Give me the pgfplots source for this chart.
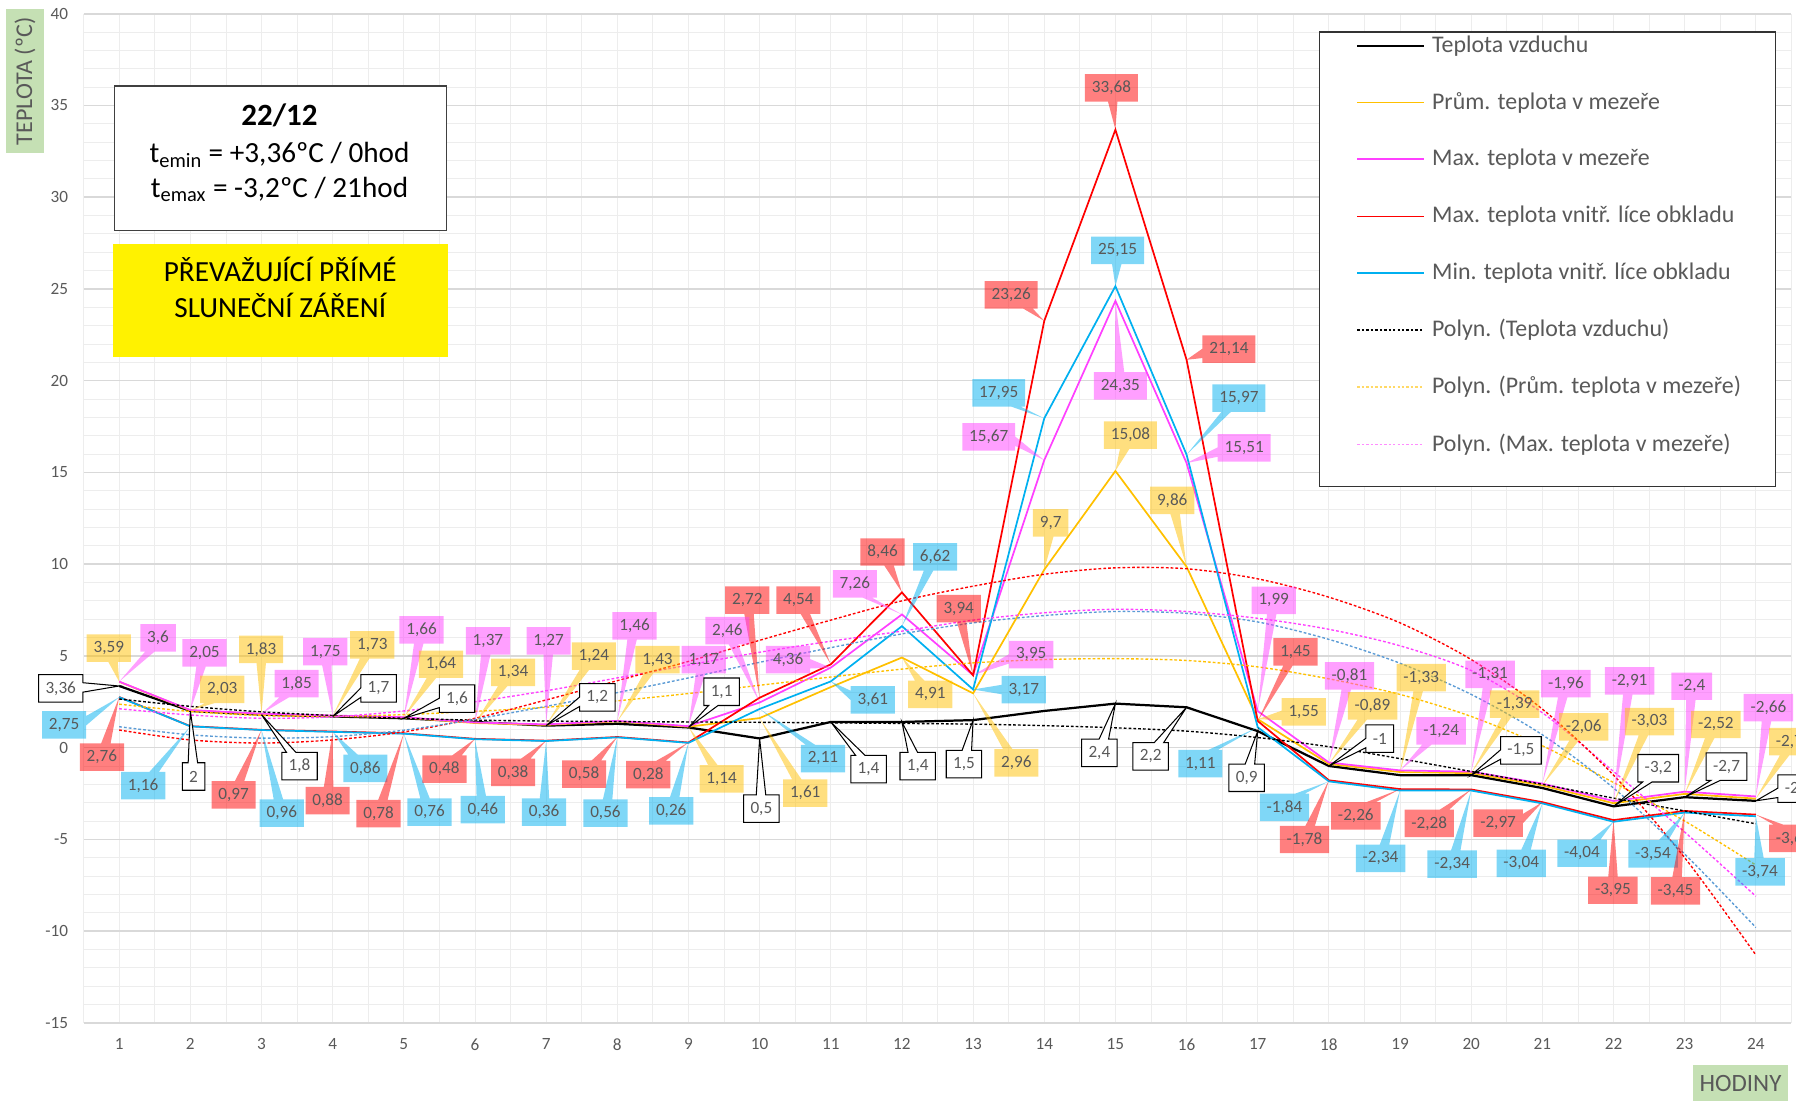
\documentclass[border=0pt]{standalone}
\usepackage{pgfplots}
\pgfplotsset{compat=1.18}
\usepackage{fontspec}
\setmainfont{Carlito}
\usetikzlibrary{shapes.callouts}
\definecolor{cY}{HTML}{FFC000}
\definecolor{cM}{HTML}{FF40FF}
\definecolor{cR}{HTML}{FF0000}
\definecolor{cB}{HTML}{00B0F0}
\definecolor{tB}{HTML}{5B9BD5}
\definecolor{lbl}{HTML}{595959}
\definecolor{gridlight}{HTML}{EDEDED}
\definecolor{gridmajor}{HTML}{D9D9D9}
\definecolor{cG}{HTML}{C5E0B4}
\tikzset{
 labbase/.style={rectangle callout, callout pointer width=5.5pt, font=\fontsize{10}{11}\selectfont, text=lbl, minimum height=16pt, inner xsep=4pt, inner ysep=1pt},
 labR/.style={labbase, fill=cR, fill opacity=0.5, text opacity=1},
 labB/.style={labbase, fill=cB, fill opacity=0.5, text opacity=1},
 labY/.style={labbase, fill=cY, fill opacity=0.5, text opacity=1},
 labM/.style={labbase, fill=cM, fill opacity=0.5, text opacity=1},
 labK/.style={labbase, fill=white, draw=black, line width=0.6pt},
 trend/.style={line width=0.8pt, dash pattern=on 1.6pt off 1.2pt, smooth},
 leg/.style={anchor=west, font=\fontsize{13.9}{16}\selectfont, text=lbl, inner sep=0pt},
}
\newcommand\lab[6]{\node[lab#1, callout absolute pointer={(axis cs:#4,#5)}] at ([xshift={(#2-104.06-62.125*(#4-1))*0.6667pt}, yshift={(652.8-16.018*(#5)-#3)*0.6667pt}]axis cs:#4,#5) {#6};}
\begin{document}
\begin{tikzpicture}
\begin{axis}[
 at={(0pt,0pt)}, anchor=south west,
 scale only axis, width=994.05pt, height=587.36pt,
 xmin=0.5, xmax=24.5, ymin=-15, ymax=40,
 xtick={1,2,...,24}, ytick={-15,-10,...,40},
 minor x tick num=1, minor y tick num=4,
 grid=both,
 major x grid style={color=gridlight, line width=0.5pt},
 minor x grid style={color=gridlight, line width=0.5pt},
 major y grid style={color=gridmajor, line width=0.9pt},
 minor y grid style={color=gridlight, line width=0.5pt},
 axis line style={draw=none},
 tick style={draw=none},
 tick label style={font=\fontsize{10}{11}\selectfont, text=lbl},
 xticklabel style={yshift=-5.7pt},
 yticklabel style={xshift=-5.5pt},
 /pgf/number format/assume math mode=true,
 clip=false,
]
\draw[gridlight, line width=0.5pt] (axis cs:0.5,-15) -- (axis cs:0.5,40);
\draw[gridlight, line width=0.5pt] (axis cs:24.5,-15) -- (axis cs:24.5,40);
% data series
\addplot[black, line width=1.3pt, mark=none] coordinates {(1,3.36)(2,2)(3,1.8)(4,1.7)(5,1.6)(6,1.4)(7,1.2)(8,1.3)(9,1.1)(10,0.5)(11,1.4)(12,1.4)(13,1.5)(14,2.0)(15,2.4)(16,2.2)(17,0.9)(18,-1)(19,-1.5)(20,-1.5)(21,-2.2)(22,-3.2)(23,-2.7)(24,-2.9)};
\addplot[cY, line width=1pt, mark=none] coordinates {(1,3.59)(2,2.03)(3,1.83)(4,1.73)(5,1.64)(6,1.34)(7,1.24)(8,1.43)(9,1.14)(10,1.61)(11,3.3)(12,4.91)(13,2.96)(14,9.7)(15,15.08)(16,9.86)(17,1.55)(18,-0.89)(19,-1.33)(20,-1.39)(21,-2.06)(22,-3.03)(23,-2.52)(24,-2.78)};
\addplot[cM, line width=1pt, mark=none] coordinates {(1,3.6)(2,2.05)(3,1.85)(4,1.75)(5,1.66)(6,1.37)(7,1.27)(8,1.46)(9,1.17)(10,2.46)(11,4.36)(12,7.26)(13,3.95)(14,15.67)(15,24.35)(16,15.51)(17,1.99)(18,-0.81)(19,-1.24)(20,-1.31)(21,-1.96)(22,-2.91)(23,-2.4)(24,-2.66)};
\addplot[cR, line width=1pt, mark=none] coordinates {(1,2.76)(2,1.17)(3,0.97)(4,0.88)(5,0.78)(6,0.48)(7,0.38)(8,0.58)(9,0.28)(10,2.72)(11,4.54)(12,8.46)(13,3.94)(14,23.26)(15,33.68)(16,21.14)(17,1.45)(18,-1.78)(19,-2.26)(20,-2.28)(21,-2.97)(22,-3.95)(23,-3.45)(24,-3.65)};
\addplot[cB, line width=1pt, mark=none] coordinates {(1,2.75)(2,1.16)(3,0.96)(4,0.86)(5,0.76)(6,0.46)(7,0.36)(8,0.56)(9,0.26)(10,2.11)(11,3.61)(12,6.62)(13,3.17)(14,17.95)(15,25.15)(16,15.97)(17,1.11)(18,-1.84)(19,-2.34)(20,-2.34)(21,-3.04)(22,-4.04)(23,-3.54)(24,-3.74)};
% trendlines
\addplot[black, trend] coordinates {(1,2.65)(2,2.25)(3,1.95)(4,1.75)(5,1.6)(6,1.5)(7,1.45)(8,1.42)(9,1.4)(10,1.38)(11,1.35)(12,1.32)(13,1.28)(14,1.2)(15,1.08)(16,0.9)(17,0.55)(18,0.05)(19,-0.6)(20,-1.3)(21,-2.0)(22,-2.75)(23,-3.45)(24,-4.15)};
\addplot[cY, trend] coordinates {(1,2.37)(2,1.97)(3,1.75)(4,1.7)(5,1.8)(6,1.98)(7,2.2)(8,2.55)(9,2.95)(10,3.4)(11,3.85)(12,4.28)(13,4.62)(14,4.8)(15,4.85)(16,4.75)(17,4.4)(18,3.75)(19,2.9)(20,1.7)(21,0.1)(22,-1.9)(23,-4.0)(24,-6.4)};
\addplot[cM, trend] coordinates {(1,2.12)(2,1.78)(3,1.6)(4,1.68)(5,2.0)(6,2.5)(7,3.1)(8,3.8)(9,4.5)(10,5.2)(11,5.8)(12,6.35)(13,6.95)(14,7.35)(15,7.54)(16,7.42)(17,7.05)(18,6.45)(19,5.55)(20,4.2)(21,1.9)(22,-1.3)(23,-4.6)(24,-8.1)};
\addplot[cR, trend] coordinates {(1,0.96)(2,0.42)(3,0.25)(4,0.42)(5,0.86)(6,1.6)(7,2.6)(8,3.65)(9,4.7)(10,5.85)(11,6.95)(12,8.0)(13,8.8)(14,9.45)(15,9.8)(16,9.75)(17,9.2)(18,8.2)(19,6.8)(20,4.8)(21,2.1)(22,-1.5)(23,-6.0)(24,-11.3)};
\addplot[tB, trend] coordinates {(1,1.14)(2,0.7)(3,0.52)(4,0.6)(5,0.95)(6,1.55)(7,2.25)(8,3.0)(9,3.8)(10,4.65)(11,5.45)(12,6.2)(13,6.8)(14,7.2)(15,7.42)(16,7.32)(17,6.85)(18,5.9)(19,4.6)(20,2.9)(21,0.7)(22,-2.2)(23,-5.8)(24,-9.8)};
% data labels
\lab{Y}{95}{566}{1}{3.59}{3,59}
\lab{M}{138}{557}{1}{3.6}{3,6}
\lab{K}{53}{601}{1}{3.36}{3,36}
\lab{B}{56}{633}{1}{2.75}{2,75}
\lab{R}{89}{661}{1}{2.76}{2,76}
\lab{M}{178.5}{570}{2}{2.05}{2,05}
\lab{Y}{194}{602}{2}{2.03}{2,03}
\lab{B}{125}{686}{2}{1.16}{1,16}
\lab{K}{169}{678}{2}{2}{2}
\lab{Y}{228}{567}{3}{1.83}{1,83}
\lab{M}{259}{597}{3}{1.85}{1,85}
\lab{K}{261.5}{669}{3}{1.8}{1,8}
\lab{R}{204}{694}{3}{0.97}{0,97}
\lab{B}{246}{710}{3}{0.96}{0,96}
\lab{M}{284}{569}{4}{1.75}{1,75}
\lab{Y}{325}{563}{4}{1.73}{1,73}
\lab{K}{330.5}{601}{4}{1.7}{1,7}
\lab{B}{319}{671}{4}{0.86}{0,86}
\lab{R}{286}{699}{4}{0.88}{0,88}
\lab{M}{368}{550}{5}{1.66}{1,66}
\lab{Y}{385}{580}{5}{1.64}{1,64}
\lab{K}{399}{610}{5}{1.6}{1,6}
\lab{R}{330.5}{710.5}{5}{0.78}{0,78}
\lab{B}{375}{709}{5}{0.76}{0,76}
\lab{M}{426}{559.5}{6}{1.37}{1,37}
\lab{Y}{448}{587}{6}{1.34}{1,34}
\lab{R}{388}{671.5}{6}{0.48}{0,48}
\lab{B}{421.5}{707}{6}{0.46}{0,46}
\lab{M}{479}{559.5}{7}{1.27}{1,27}
\lab{Y}{518.5}{573}{7}{1.24}{1,24}
\lab{K}{521.5}{609}{7}{1.2}{1,2}
\lab{R}{448}{674.4}{7}{0.38}{0,38}
\lab{B}{475}{709}{7}{0.36}{0,36}
\lab{M}{554}{546.5}{8}{1.46}{1,46}
\lab{Y}{574}{576}{8}{1.43}{1,43}
\lab{R}{510}{676}{8}{0.58}{0,58}
\lab{B}{528.6}{710}{8}{0.56}{0,56}
\lab{M}{614.4}{576}{9}{1.17}{1,17}
\lab{K}{630}{604}{9}{1.1}{1,1}
\lab{R}{566}{676.3}{9}{0.28}{0,28}
\lab{B}{586}{708}{9}{0.26}{0,26}
\lab{Y}{630}{680}{9}{1.14}{1,14}
\lab{R}{652.4}{524}{10}{2.72}{2,72}
\lab{M}{635}{550.7}{10}{2.46}{2,46}
\lab{Y}{703}{692.6}{10}{1.61}{1,61}
\lab{B}{718.5}{662.3}{10}{2.11}{2,11}
\lab{K}{664.7}{706}{10}{0.5}{0,5}
\lab{R}{697}{524}{11}{4.54}{4,54}
\lab{M}{688}{576}{11}{4.36}{4,36}
\lab{B}{762}{611}{11}{3.61}{3,61}
\lab{K}{758.3}{671.5}{11}{1.4}{1,4}
\lab{R}{770.5}{482}{12}{8.46}{8,46}
\lab{M}{746.3}{509.9}{12}{7.26}{7,26}
\lab{B}{816.4}{486.3}{12}{6.62}{6,62}
\lab{Y}{812.2}{606.2}{12}{4.91}{4,91}
\lab{K}{801.2}{668.9}{12}{1.4}{1,4}
\lab{R}{837}{531.4}{13}{3.94}{3,94}
\lab{M}{900.3}{571.5}{13}{3.95}{3,95}
\lab{B}{893.8}{602.1}{13}{3.17}{3,17}
\lab{Y}{887.3}{666.1}{13}{2.96}{2,96}
\lab{K}{841.6}{667.2}{13}{1.5}{1,5}
\lab{R}{882.8}{257.6}{14}{23.26}{23,26}
\lab{B}{872}{343}{14}{17.95}{17,95}
\lab{M}{863.2}{381.5}{14}{15.67}{15,67}
\lab{Y}{917.3}{456.5}{14}{9.7}{9,7}
\lab{R}{970.3}{76.8}{15}{33.68}{33,68}
\lab{B}{975.7}{218.6}{15}{25.15}{25,15}
\lab{M}{978.1}{337}{15}{24.35}{24,35}
\lab{Y}{986.9}{380}{15}{15.08}{15,08}
\lab{K}{959.8}{657.3}{15}{2.4}{2,4}
\lab{R}{1072.9}{304.8}{16}{21.14}{21,14}
\lab{B}{1081.6}{347.7}{16}{15.97}{15,97}
\lab{M}{1086.2}{391}{16}{15.51}{15,51}
\lab{Y}{1023.4}{437}{16}{9.86}{9,86}
\lab{K}{1004.6}{660.4}{16}{2.2}{2,2}
\lab{M}{1112}{524.3}{17}{1.99}{1,99}
\lab{R}{1131}{569.2}{17}{1.45}{1,45}
\lab{Y}{1138.2}{621.6}{17}{1.55}{1,55}
\lab{B}{1048}{666.8}{17}{1.11}{1,11}
\lab{K}{1088.4}{679.1}{17}{0.9}{0,9}
\lab{M}{1178.2}{590.2}{18}{-0.81}{-0,81}
\lab{Y}{1198.3}{616.4}{18}{-0.89}{-0,89}
\lab{K}{1204.6}{645}{18}{-1}{-1}
\lab{B}{1121.4}{705}{18}{-1.84}{-1,84}
\lab{R}{1138.9}{733}{18}{-1.78}{-1,78}
\lab{Y}{1240.8}{591.6}{19}{-1.33}{-1,33}
\lab{M}{1258.2}{638.2}{19}{-1.24}{-1,24}
\lab{R}{1183.7}{712.4}{19}{-2.26}{-2,26}
\lab{B}{1205.3}{749.4}{19}{-2.34}{-2,34}
\lab{M}{1300.9}{588.8}{20}{-1.31}{-1,31}
\lab{Y}{1322.4}{614.9}{20}{-1.39}{-1,39}
\lab{K}{1327.8}{655.1}{20}{-1.5}{-1,5}
\lab{R}{1247.8}{718.9}{20}{-2.28}{-2,28}
\lab{B}{1267.8}{754.6}{20}{-2.34}{-2,34}
\lab{M}{1367.1}{597}{21}{-1.96}{-1,96}
\lab{Y}{1382.7}{634.7}{21}{-2.06}{-2,06}
\lab{R}{1307.9}{718.6}{21}{-2.97}{-2,97}
\lab{B}{1328.1}{753.8}{21}{-3.04}{-3,04}
\lab{M}{1422.7}{594.6}{22}{-2.91}{-2,91}
\lab{Y}{1440.1}{630}{22}{-3.03}{-3,03}
\lab{K}{1447.7}{670.8}{22}{-3.2}{-3,2}
\lab{B}{1381.2}{745}{22}{-4.04}{-4,04}
\lab{R}{1408.1}{777.3}{22}{-3.95}{-3,95}
\lab{M}{1477}{599.2}{23}{-2.4}{-2,4}
\lab{Y}{1498}{632.6}{23}{-2.52}{-2,52}
\lab{K}{1507.3}{669.4}{23}{-2.7}{-2,7}
\lab{B}{1443.2}{745.6}{23}{-3.54}{-3,54}
\lab{R}{1462.8}{777.8}{23}{-3.45}{-3,45}
\lab{M}{1543.9}{617.9}{24}{-2.66}{-2,66}
\lab{Y}{1566}{647.5}{24}{-2.78}{-2,78}
\lab{K}{1570}{688.5}{24}{-2.9}{-2,9}
\lab{R}{1566}{732}{24}{-3.65}{-3,65}
\lab{B}{1536.6}{761.3}{24}{-3.74}{-3,74}
\end{axis}
\begin{scope}[x=0.6667pt, y=-0.6667pt, shift={(-48.669pt,595.36pt)}]
% axis titles
\fill[cG] (5,8) rectangle (38,134);
\node[rotate=90, font=\fontsize{14}{16}\selectfont, text=lbl] at (21.8,71) {TEPLOTA (ºC)};
\fill[cG] (1478,930) rectangle (1561,975);
\node[font=\fontsize{14.5}{16}\selectfont, text=lbl] at (1519.5,946) {HODINY};
% info box
\draw[black!75, line width=0.8pt, fill=white] (100,75) rectangle (390,201);
\node[anchor=base, font=\fontsize{18}{20}\selectfont\bfseries] at (244,110) {22/12};
\node[anchor=base, font=\fontsize{17}{19}\selectfont] at (244,142) {t\textsubscript{emin} = +3,36ºC / 0hod};
\node[anchor=base, font=\fontsize{17}{19}\selectfont] at (244,172.3) {t\textsubscript{emax} = -3,2ºC / 21hod};
% yellow box
\fill[yellow] (99,213) rectangle (391,312);
\node[anchor=base, font=\fontsize{17}{19}\selectfont] at (244.7,246) {PŘEVAŽUJÍCÍ PŘÍMÉ};
\node[anchor=base, font=\fontsize{17}{19}\selectfont] at (244.7,277) {SLUNEČNÍ ZÁŘENÍ};
% legend
\draw[black!80, line width=0.7pt, fill=white] (1152,28) rectangle (1550,425);
\draw[black, line width=1.1pt] (1185,40) -- (1243,40);
\node[leg] at (1250,40) {Teplota vzduchu};
\draw[cY, line width=1pt] (1185,89.5) -- (1243,89.5);
\node[leg] at (1250,89.5) {Prům. teplota v mezeře};
\draw[cM, line width=1pt] (1185,139) -- (1243,139);
\node[leg] at (1250,139) {Max. teplota v mezeře};
\draw[cR, line width=1pt] (1185,189) -- (1243,189);
\node[leg] at (1250,189) {Max. teplota vnitř. líce obkladu};
\draw[cB, line width=1pt] (1185,238.5) -- (1243,238.5);
\node[leg] at (1250,238.5) {Min. teplota vnitř. líce obkladu};
\draw[black, line width=0.8pt, dash pattern=on 1.4pt off 1.2pt] (1185,288) -- (1243,288);
\node[leg] at (1250,288) {Polyn. (Teplota vzduchu)};
\draw[cY!60, line width=0.8pt, dash pattern=on 1.4pt off 1.2pt] (1185,338) -- (1243,338);
\node[leg] at (1250,338) {Polyn. (Prům. teplota v mezeře)};
\draw[cM!60, line width=0.8pt, dash pattern=on 1.4pt off 1.2pt] (1185,388) -- (1243,388);
\node[leg] at (1250,388) {Polyn. (Max. teplota v mezeře)};
\pgfresetboundingbox
\path[use as bounding box] (0,0) rectangle (1568,961);
\end{scope}
\end{tikzpicture}
\end{document}
